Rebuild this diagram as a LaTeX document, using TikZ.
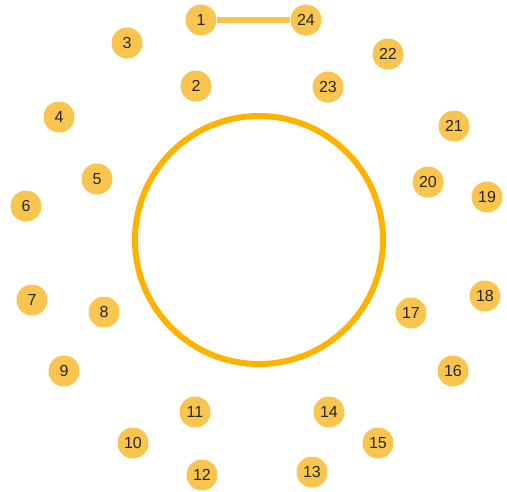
\documentclass[tikz,border=0pt]{standalone}
\usepackage{fontspec}
\setmainfont{Liberation Sans}
\definecolor{dotc}{HTML}{F9C54E}
\definecolor{ringc}{HTML}{FFB300}
\definecolor{txtc}{HTML}{262626}
\begin{document}
\begin{tikzpicture}[x=1pt,y=-1pt,
  dot/.style={circle,fill=dotc,minimum size=31pt,inner sep=0pt,text=txtc,font=\fontsize{16}{16}\selectfont},
  link/.style={dotc,line width=6pt}]
\useasboundingbox (0,0) rectangle (507,491);
\node[circle,draw=ringc,line width=6pt,minimum size=248pt,inner sep=0pt] (ring) at (259,240) {};
\node[dot] (n1) at (201,20) {1};
\node[dot] (n24) at (306,20) {24};
\draw[link] (n1) -- (n24);
\node[dot] (n3) at (127,43) {3};
\node[dot] (n22) at (388,54) {22};
\node[dot] (n2) at (196,86) {2};
\node[dot] (n23) at (328,87) {23};
\node[dot] (n4) at (59,117) {4};
\node[dot] (n21) at (454,126) {21};
\node[dot] (n5) at (97,179) {5};
\node[dot] (n20) at (428,182) {20};
\node[dot] (n6) at (26,206) {6};
\node[dot] (n19) at (487,197) {19};
\node[dot] (n7) at (32,300) {7};
\node[dot] (n18) at (485,296) {18};
\node[dot] (n8) at (104,312) {8};
\node[dot] (n17) at (411,313) {17};
\node[dot] (n9) at (64,371) {9};
\node[dot] (n16) at (453,371) {16};
\node[dot] (n11) at (195,412) {11};
\node[dot] (n14) at (329,412) {14};
\node[dot] (n10) at (133,443) {10};
\node[dot] (n15) at (378,443) {15};
\node[dot] (n12) at (202,475) {12};
\node[dot] (n13) at (312,472) {13};
\end{tikzpicture}
\end{document}
